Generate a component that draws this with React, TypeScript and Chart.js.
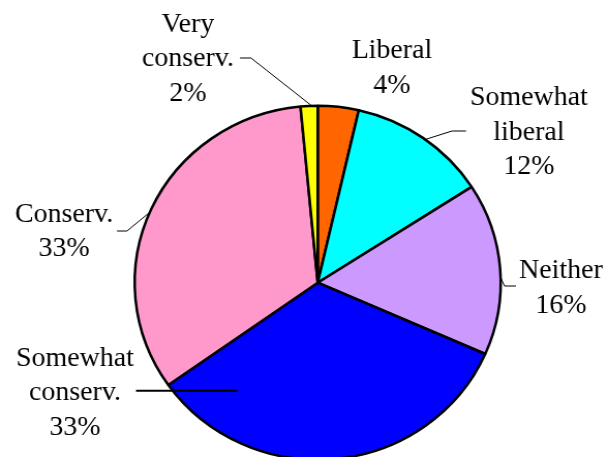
import React, { useEffect, useRef } from "react";
import { Chart, registerables } from "chart.js";

Chart.register(...registerables);

// ---- data ----
const categories = ["Liberal", "Somewhat liberal", "Neither", "Somewhat conserv.", "Conserv.", "Very conserv."];
const labelLines = [["Liberal"], ["Somewhat", "liberal"], ["Neither"], ["Somewhat", "conserv."], ["Conserv."], ["Very", "conserv."]];
const shares = [3.6, 12.3, 15.7, 33.6, 33.3, 1.5];
const percentLabels = ["4%", "12%", "16%", "33%", "33%", "2%"];
const sliceColors = ["#FF6600", "#00FFFF", "#CC99FF", "#0000FF", "#FF99CC", "#FFFF00"];

// ---- layout (CSS px of the 608x457 picture) ----
const CSS_W = 608;
const CSS_H = 457;
const BUF_W = 588; // drawing buffer is stretched horizontally to CSS_W
const BUF_H = 457;
const KX = CSS_W / BUF_W;
const CENTER_X = 317.7;
const CENTER_Y = 282.7;
const RADIUS = 177;
const FONT_SIZE = 27;
const LINE_H = 34.5;

type Leader = { path: number[][]; t: number; r: number; width: number } | null;
const labelLayout: { x: number; y: number; leader: Leader }[] = [
  { x: 392, y: 58.3, leader: null },
  { x: 529, y: 105, leader: { path: [[466, 131], [452, 131]], t: 0.52, r: 1, width: 1 } },
  { x: 561, y: 278.3, leader: { path: [[516, 286], [504.5, 286]], t: 0.55, r: 1, width: 1 } },
  { x: 75, y: 365.7, leader: { path: [[136, 390.7]], t: 0.842, r: 0.751, width: 2 } },
  { x: 64, y: 221.7, leader: { path: [[117, 231], [127, 231]], t: 0.49, r: 1, width: 1 } },
  { x: 188, y: 31.5, leader: { path: [[240, 58], [251, 58]], t: 0.65, r: 1, width: 1 } },
];

const labelPlugin = {
  id: "pieLabels",
  afterDraw(chart: any) {
    const ctx = chart.ctx as CanvasRenderingContext2D;
    const meta = chart.getDatasetMeta(0);
    ctx.save();
    meta.data.forEach((arc: any, i: number) => {
      const lay = labelLayout[i];
      const p = arc.getProps(["x", "y", "startAngle", "endAngle", "outerRadius"], true);
      if (lay.leader) {
        const ang = p.startAngle + lay.leader.t * (p.endAngle - p.startAngle);
        const ax = p.x + Math.cos(ang) * p.outerRadius * lay.leader.r;
        const ay = p.y + Math.sin(ang) * p.outerRadius * lay.leader.r;
        ctx.beginPath();
        ctx.strokeStyle = "#000";
        ctx.lineWidth = lay.leader.width;
        lay.leader.path.forEach((pt, j) => {
          const x = pt[0] / KX;
          if (j === 0) ctx.moveTo(x, pt[1]);
          else ctx.lineTo(x, pt[1]);
        });
        ctx.lineTo(ax, ay);
        ctx.stroke();
      }
      ctx.fillStyle = "#000";
      ctx.font = `${FONT_SIZE}px "Liberation Serif", "Times New Roman", serif`;
      ctx.textAlign = "center";
      ctx.textBaseline = "alphabetic";
      const lines = [...labelLines[i], percentLabels[i]];
      lines.forEach((ln, j) => {
        ctx.fillText(ln, lay.x / KX, lay.y + j * LINE_H);
      });
    });
    ctx.restore();
  },
};

export default function App() {
  const ref = useRef<HTMLCanvasElement | null>(null);
  useEffect(() => {
    if (!ref.current) return;
    const cxBuf = CENTER_X / KX;
    const padLeft = 2 * cxBuf - BUF_W;
    const padTop = 2 * CENTER_Y - BUF_H;
    const chart = new Chart(ref.current, {
      type: "pie",
      data: {
        labels: categories,
        datasets: [
          {
            data: shares,
            backgroundColor: sliceColors,
            borderColor: "#000000",
            borderWidth: 2.5,
            clip: false as any,
          } as any,
        ],
      },
      options: {
        responsive: false,
        animation: false,
        events: [],
        radius: RADIUS,
        rotation: 0,
        layout: { padding: { left: padLeft, right: 0, top: padTop, bottom: 0 } },
        plugins: {
          legend: { display: false },
          tooltip: { enabled: false },
        },
      } as any,
      plugins: [labelPlugin],
    });
    return () => chart.destroy();
  }, []);
  return (
    <div style={{ position: "fixed", left: 0, top: 0, width: CSS_W, height: CSS_H, background: "#fff" }}>
      <canvas
        ref={ref}
        width={BUF_W}
        height={BUF_H}
        style={{ width: `${CSS_W}px`, height: `${CSS_H}px`, display: "block" }}
      />
    </div>
  );
}
